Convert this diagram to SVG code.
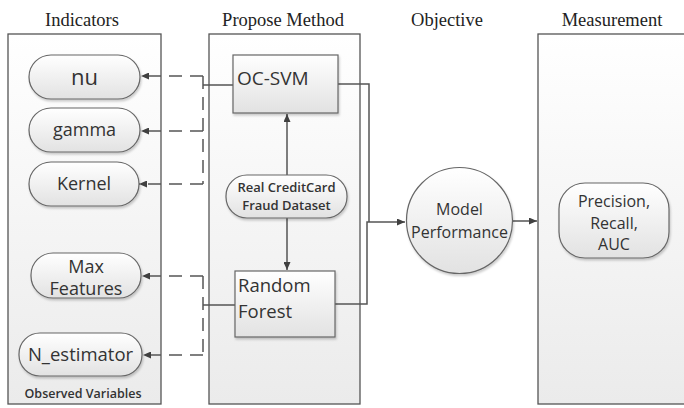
<svg xmlns="http://www.w3.org/2000/svg" width="684" height="408" viewBox="0 0 684 408">
<defs>
<linearGradient id="panelG" x1="0" y1="0" x2="0" y2="1">
<stop offset="0" stop-color="#ffffff"/><stop offset="1" stop-color="#ebebeb"/>
</linearGradient>
<linearGradient id="nodeG" x1="0" y1="0" x2="0" y2="1">
<stop offset="0" stop-color="#ffffff"/><stop offset="1" stop-color="#e2e2e2"/>
</linearGradient>
<filter id="sh" x="-10%" y="-10%" width="130%" height="140%">
<feDropShadow dx="1" dy="2" stdDeviation="1.2" flood-color="#000" flood-opacity="0.2"/>
</filter>
<marker id="ah" viewBox="0 0 8 7" refX="8" refY="3.5" markerWidth="8" markerHeight="7" markerUnits="userSpaceOnUse" orient="auto">
<path d="M0,0 L8,3.5 L0,7 z" fill="#404040"/>
</marker>
</defs>
<style>
.title{font-family:"Liberation Serif",serif;font-size:18.5px;fill:#222;text-anchor:middle}
.panel{fill:url(#panelG);stroke:#555;stroke-width:1.3}
.node{fill:url(#nodeG);stroke:#666;stroke-width:1.2;filter:url(#sh)}
.t{font-family:"Open Sans","Liberation Sans",sans-serif;fill:#333;text-anchor:middle}
.tl{font-family:"Open Sans","Liberation Sans",sans-serif;fill:#333}
.c{fill:none;stroke:#555;stroke-width:1.5}
.d{fill:none;stroke:#555;stroke-width:1.5;stroke-dasharray:13,8}
</style>

<g id="titles">
<text class="title" x="82" y="26">Indicators</text>
<text class="title" x="283" y="26">Propose Method</text>
<text class="title" x="447" y="26">Objective</text>
<text class="title" x="612" y="26">Measurement</text>
</g>

<g id="panels">
<rect id="panel-indicators" class="panel" x="8" y="34" width="153" height="370"/>
<rect id="panel-method" class="panel" x="209" y="34" width="151" height="370"/>
<rect id="panel-measurement" class="panel" x="538" y="34" width="150" height="370"/>
<text class="t" x="83" y="398" font-size="12.5" font-weight="600" fill="#444">Observed Variables</text>
</g>

<g id="connectors">
<path class="c" d="M233,85 H203"/>
<path class="d" d="M203,76 V184"/>
<path class="d" d="M203,76 H141" marker-end="url(#ah)"/>
<path class="d" d="M203,131 H141" marker-end="url(#ah)"/>
<path class="d" d="M203,184 H139" marker-end="url(#ah)"/>
<path class="c" d="M235,305 H203"/>
<path class="d" d="M203,276 V355"/>
<path class="d" d="M203,276 H142" marker-end="url(#ah)"/>
<path class="d" d="M203,355 H143" marker-end="url(#ah)"/>
<path class="c" d="M287,175 V114" marker-end="url(#ah)"/>
<path class="c" d="M287,218 V270" marker-end="url(#ah)"/>
<path class="c" d="M338,84 H369 V222"/>
<path class="c" d="M335,304 H367 V222 H405" marker-end="url(#ah)"/>
<path class="c" d="M513,221 H537" marker-end="url(#ah)"/>
</g>

<g id="nu">
<rect class="node" x="29" y="55" width="111" height="44" rx="22"/>
<text class="t" x="84.5" y="85" font-size="22">nu</text>
</g>
<g id="gamma">
<rect class="node" x="29" y="108" width="111" height="44" rx="22"/>
<text class="t" x="84.5" y="136" font-size="18">gamma</text>
</g>
<g id="kernel">
<rect class="node" x="29" y="162" width="110" height="44" rx="22"/>
<text class="t" x="84" y="190" font-size="18">Kernel</text>
</g>
<g id="max-features">
<rect class="node" x="31" y="253" width="110" height="45" rx="22"/>
<text class="t" x="86" y="273" font-size="18">Max</text>
<text class="t" x="86" y="295" font-size="18">Features</text>
</g>
<g id="n-estimator">
<rect class="node" x="19" y="333" width="123" height="43" rx="21"/>
<text class="t" x="80.5" y="361" font-size="18.5">N_estimator</text>
</g>

<g id="oc-svm">
<rect class="node" x="233" y="55" width="105" height="58"/>
<text class="tl" x="237" y="85" font-size="19">OC-SVM</text>
</g>
<g id="dataset">
<rect class="node" x="226" y="175" width="121" height="43" rx="21"/>
<text class="t" x="286.5" y="192" font-size="13" font-weight="600">Real CreditCard</text>
<text class="t" x="286.5" y="210" font-size="13" font-weight="600">Fraud Dataset</text>
</g>
<g id="random-forest">
<rect class="node" x="235" y="271" width="100" height="66"/>
<text class="tl" x="238" y="292" font-size="18.5">Random</text>
<text class="tl" x="238" y="318" font-size="18.5">Forest</text>
</g>

<g id="model-performance">
<circle class="node" cx="459.5" cy="220.5" r="53"/>
<text class="t" x="459.5" y="215" font-size="16">Model</text>
<text class="t" x="459.5" y="238" font-size="16">Performance</text>
</g>

<g id="metrics">
<rect class="node" x="559" y="183" width="110" height="75" rx="26"/>
<text class="t" x="614" y="207" font-size="16">Precision,</text>
<text class="t" x="614" y="229" font-size="16">Recall,</text>
<text class="t" x="614" y="250" font-size="16">AUC</text>
</g>
</svg>
